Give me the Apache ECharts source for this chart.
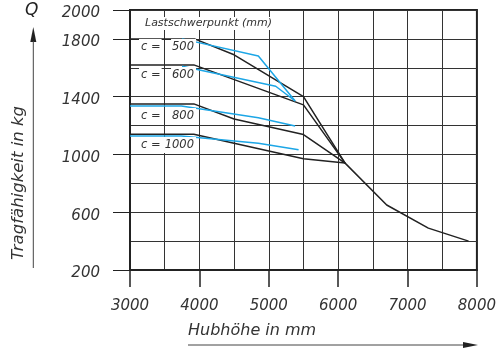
<!DOCTYPE html>
<html>
<head>
    <meta charset="UTF-8"/>
    <title>Tragfähigkeit</title>
    <style>
        html, body { margin: 0; padding: 0; background: #fff; }
        #charts { width: 499px; height: 360px; }
    </style>
</head>
<body>
<div id="charts"></div>
<script src="https://cdn.jsdelivr.net/npm/echarts/dist/echarts.min.js"></script>
<script>
    // Achsen
    var xTicks = [3000, 4000, 5000, 6000, 7000, 8000];
    var yCats = ['200', '400', '600', '800', '1000', '1200', '1400', '1600', '1800', '2000'];

    // Kennlinien (Hubhöhe mm, Tragfähigkeit kg)
    var black500 = [[3000, 1800], [3930, 1800], [4500, 1690], [5500, 1400], [6100, 940], [6700, 650], [7300, 490], [7880, 400]];
    var black600 = [[3000, 1620], [3920, 1620], [5500, 1343], [6100, 940]];
    var black800 = [[3000, 1350], [3920, 1350], [4500, 1245], [5500, 1138], [6100, 940]];
    var black1000 = [[3000, 1140], [3920, 1140], [4500, 1078], [5500, 970], [6100, 940]];

    var blue500 = [[3750, 1800], [4850, 1682], [5380, 1370]];
    var blue600 = [[3750, 1610], [5100, 1472], [5380, 1370]];
    var blue800 = [[3000, 1336], [3740, 1336], [4850, 1254], [5380, 1197]];
    var blue1000 = [[3000, 1128], [3740, 1128], [4850, 1078], [5430, 1032]];

    var cLabels = ['500', '600', '800', '1000'];
    var cLabelY = [48, 76, 117, 146];

    var FONT = 'DejaVu Sans';
    var INK = '#222';
    var BLUE = '#1ca6e6';

    var myChart = echarts.init(document.getElementById('charts'));

    function curve(data, color) {
        return {
            type: 'line',
            xAxisIndex: 0,
            yAxisIndex: 0,
            data: data,
            showSymbol: false,
            silent: true,
            lineStyle: {color: color, width: 1.5},
            z: color === BLUE ? 4 : 3
        };
    }

    function showEveryOther(idx) {
        return idx % 2 === 0 || idx === yCats.length - 1;
    }

    // Beschriftung c = ...
    var graphics = [];
    cLabels.forEach(function (c, i) {
        graphics.push({
            type: 'text', left: 139, top: cLabelY[i] - 9, z: 10,
            style: {text: 'c =', font: 'italic 11.5px "' + FONT + '"', fill: '#333',
                backgroundColor: '#fff', padding: [2, 1, 2, 2]}
        });
        graphics.push({
            type: 'text', right: 499 - 196, top: cLabelY[i] - 9, z: 11,
            style: {text: c, font: 'italic 11.5px "' + FONT + '"', fill: '#333',
                backgroundColor: '#fff', padding: [2, 2, 2, 1]}
        });
    });
    graphics.push({
        type: 'text', left: 143, top: 17, z: 10,
        style: {text: 'Lastschwerpunkt (mm)', font: 'italic 11px "' + FONT + '"', fill: '#333',
            backgroundColor: '#fff', padding: [1, 2]}
    });
    // Achsentitel mit Pfeilen
    graphics.push({
        type: 'text', left: 25, top: 2,
        style: {text: 'Q', font: 'italic 17px "' + FONT + '"', fill: INK}
    });
    graphics.push({
        type: 'polygon', shape: {points: [[33.3, 27], [30.3, 42], [36.3, 42]]}, style: {fill: INK}
    });
    graphics.push({
        type: 'line', shape: {x1: 33.3, y1: 41, x2: 33.3, y2: 268}, style: {stroke: '#444', lineWidth: 1}
    });
    graphics.push({
        type: 'text', x: 19, y: 183, rotation: Math.PI / 2,
        style: {text: 'Tragfähigkeit in kg', font: 'italic 16.5px "' + FONT + '"', fill: '#333',
            align: 'center', verticalAlign: 'middle'}
    });
    graphics.push({
        type: 'text', left: 188, top: 323,
        style: {text: 'Hubhöhe in mm', font: 'italic 16px "' + FONT + '"', fill: '#333'}
    });
    graphics.push({
        type: 'line', shape: {x1: 188, y1: 345, x2: 466, y2: 345}, style: {stroke: '#444', lineWidth: 1}
    });
    graphics.push({
        type: 'polygon', shape: {points: [[478, 345], [463, 342], [463, 348]]}, style: {fill: INK}
    });

    var option = {
        backgroundColor: '#fff',
        animation: false,
        grid: {
            left: 130, right: 21, top: 10, bottom: 90,
            show: true, borderColor: INK, borderWidth: 2
        },
        xAxis: [
            {
                // Raster alle 500 mm
                type: 'value', position: 'top', min: 3000, max: 8000, interval: 500,
                axisLine: {show: false}, axisTick: {show: false}, axisLabel: {show: false},
                splitLine: {show: true, lineStyle: {color: '#333', width: 1}}
            },
            {
                type: 'value', position: 'bottom', min: xTicks[0], max: xTicks[xTicks.length - 1], interval: 1000,
                axisLine: {show: true, onZero: false, lineStyle: {color: INK, width: 2}},
                axisTick: {show: true, length: 17, lineStyle: {color: INK, width: 1.5}},
                axisLabel: {
                    margin: 29, color: '#333', fontFamily: FONT, fontStyle: 'italic', fontSize: 15,
                    formatter: function (v) { return String(v); }
                },
                splitLine: {show: false}
            }
        ],
        yAxis: [
            {
                // Raster alle 200 kg
                type: 'value', position: 'right', min: 200, max: 2000, interval: 200,
                axisLine: {show: false}, axisTick: {show: false}, axisLabel: {show: false},
                splitLine: {show: true, lineStyle: {color: '#333', width: 1}}
            },
            {
                type: 'category', position: 'left', data: yCats, boundaryGap: false,
                axisLine: {show: true, onZero: false, lineStyle: {color: INK, width: 2}},
                axisTick: {
                    show: true, length: 17, lineStyle: {color: INK, width: 1},
                    interval: showEveryOther
                },
                axisLabel: {
                    margin: 30, interval: showEveryOther,
                    formatter: function (v) { return '{t|' + v + '}'; },
                    rich: {
                        t: {
                            color: '#333', fontFamily: FONT, fontStyle: 'italic', fontSize: 15,
                            padding: [7, 0, 0, 0]
                        }
                    }
                },
                splitLine: {show: false}
            }
        ],
        graphic: graphics,
        series: [
            curve(black500, INK),
            curve(black600, INK),
            curve(black800, INK),
            curve(black1000, INK),
            curve(blue500, BLUE),
            curve(blue600, BLUE),
            curve(blue800, BLUE),
            curve(blue1000, BLUE)
        ]
    };
    myChart.setOption(option);
</script>
</body>
</html>
